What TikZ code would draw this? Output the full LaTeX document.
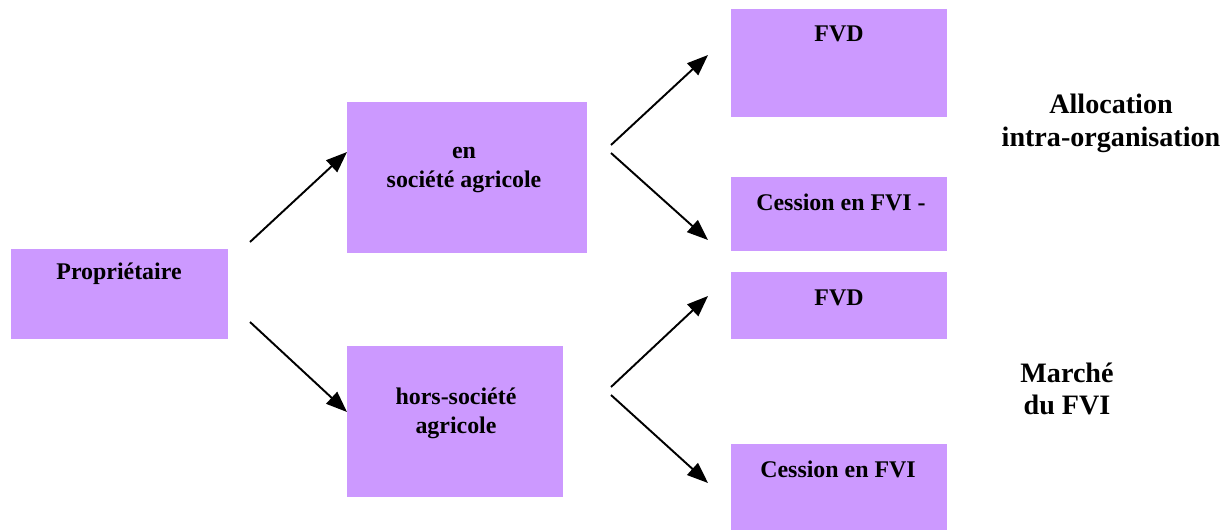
\documentclass[tikz,border=0pt]{standalone}
\usepackage{fontspec}
\setmainfont{Liberation Serif}[BoldFont={Liberation Serif Bold}]
\usetikzlibrary{positioning,calc,arrows.meta}
\definecolor{boxlilac}{HTML}{CC99FF}
\tikzset{
  box/.style={fill=boxlilac, draw=none, inner sep=0pt, anchor=north west},
  boxlabel/.style={font=\rmfamily\bfseries\fontsize{13.6}{16.4}\selectfont, align=center, inner sep=0pt},
  sidelabel/.style={font=\rmfamily\bfseries\fontsize{16}{18.7}\selectfont, align=center, inner sep=0pt},
  link/.style={-{Triangle[length=0.42cm,width=0.32cm]}, line width=1.1pt}
}
\begin{document}
\begin{tikzpicture}[x=0.02cm, y=-0.02cm]
    \useasboundingbox (0,0) rectangle (1230,531);

    % Boxes
    \node[box, minimum width=4.34cm, minimum height=1.8cm]  (prop)  at (11,249)  {};
    \node[box, minimum width=4.8cm,  minimum height=3.02cm] (soc)   at (347,102) {};
    \node[box, minimum width=4.32cm, minimum height=3.02cm] (hors)  at (347,346) {};
    \node[box, minimum width=4.32cm, minimum height=2.16cm] (fvdA)  at (731,9)   {};
    \node[box, minimum width=4.32cm, minimum height=1.48cm] (cessA) at (731,177) {};
    \node[box, minimum width=4.32cm, minimum height=1.34cm] (fvdB)  at (731,272) {};
    \node[box, minimum width=4.32cm, minimum height=1.72cm] (cessB) at (731,444) {};

    % Box texts
    \node[boxlabel] (propT)  at (119,274) {Propriétaire};
    \node[boxlabel] (socT)   at (464,170) {en\\société agricole};
    \node[boxlabel] (horsT)  at (456,413) {hors-société\\agricole};
    \node[boxlabel] (fvdAT)  at (839,34)  {FVD};
    \node[boxlabel] (cessAT) at (841,202) {Cession en FVI -};
    \node[boxlabel] (fvdBT)  at (839,298) {FVD};
    \node[boxlabel] (cessBT) at (838,469) {Cession en FVI};

    % Side texts
    \node[sidelabel] (alloc)  at (1111,123) {Allocation\\intra-organisation};
    \node[sidelabel] (marche) at (1067,389) {Marché\\du FVI};

    % Arrow ends
    \coordinate (p1) at (250,242);
    \coordinate (p2) at (250,322);
    \coordinate (s1) at (611,145);
    \coordinate (s2) at (611,153);
    \coordinate (h1) at (611,387);
    \coordinate (h2) at (611,395);
    \coordinate (tA) at (708,55);
    \coordinate (tB) at (708,240);
    \coordinate (tC) at (708,296);
    \coordinate (tD) at (708,483);

    % Arrows
    \draw[link] (p1) -- (soc.west |- 0,152);
    \draw[link] (p2) -- (hors.west |- 0,412);
    \draw[link] (s1) -- (tA);
    \draw[link] (s2) -- (tB);
    \draw[link] (h1) -- (tC);
    \draw[link] (h2) -- (tD);
\end{tikzpicture}
\end{document}
